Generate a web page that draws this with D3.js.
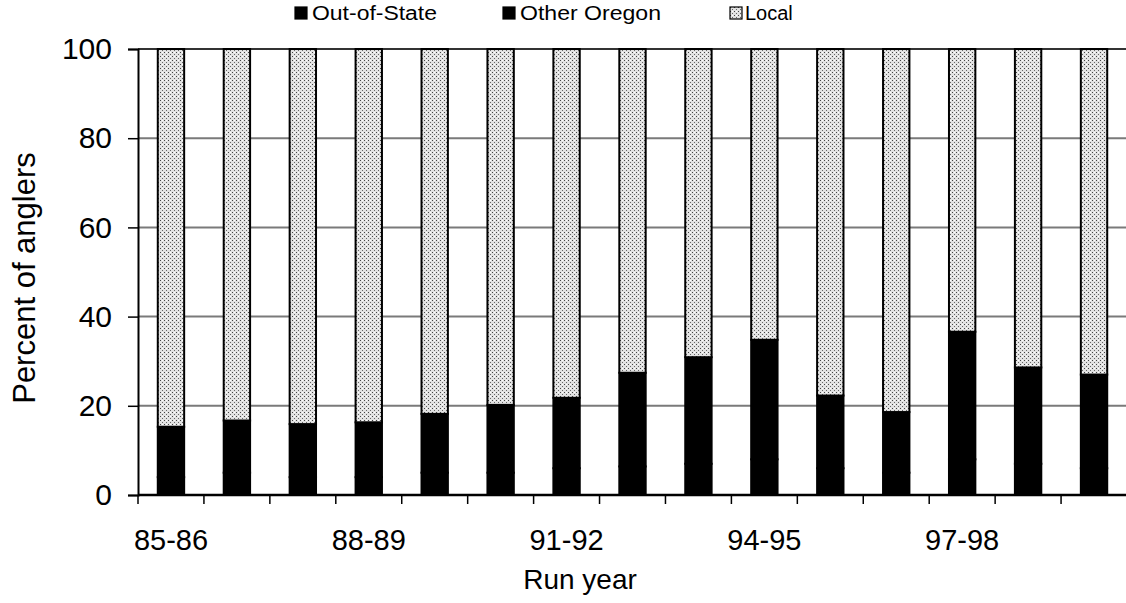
<!DOCTYPE html>
<html>
<head>
<meta charset="utf-8">
<script src="https://cdn.jsdelivr.net/npm/d3@7"></script>
<style>
  body { margin: 0; background: #fff; }
  svg { display: block; font-family: "Liberation Sans", Arial, sans-serif; }
</style>
</head>
<body>
<div id="chart"></div>
<script>
// run years on the x axis
const runYears = ['85-86', '86-87', '87-88', '88-89', '89-90', '90-91', '91-92', '92-93',
    '93-94', '94-95', '95-96', '96-97', '97-98', '98-99', '99-00'];
const shownYears = ['85-86', '88-89', '91-92', '94-95', '97-98'];

// percent of anglers
const outOfState = [4, 5, 4, 4, 5, 5, 6, 6.4, 7, 8, 6, 5, 8, 7, 6];
const otherOregon = [11.3, 11.7, 11.9, 12.3, 13.2, 15.2, 15.8, 21, 23.9, 26.8, 16.3, 13.6, 28.6, 21.6, 21];
const local = [84.7, 83.3, 84.1, 83.7, 81.8, 79.8, 78.2, 72.6, 69.1, 65.2, 77.7, 81.4, 63.4, 71.4, 73];

const yTicks = [0, 20, 40, 60, 80, 100];
const seriesNames = ['Out-of-State', 'Other Oregon', 'Local'];

function createChart() {
    const width = 1126;
    const height = 603;
    const margin = { top: 49, right: -1, bottom: 108, left: 138 };

    const svg = d3.create('svg')
        .attr('width', width)
        .attr('height', height);

    const defs = svg.append('defs');
    const pat = defs.append('pattern')
        .attr('id', 'stipple')
        .attr('patternUnits', 'userSpaceOnUse')
        .attr('width', 4)
        .attr('height', 4);
    pat.append('rect').attr('width', 4).attr('height', 4).attr('fill', '#e2e2e2');
    pat.append('rect').attr('x', 0).attr('y', 0).attr('width', 1).attr('height', 1).attr('fill', '#444');
    pat.append('rect').attr('x', 2).attr('y', 2).attr('width', 1).attr('height', 1).attr('fill', '#666');
    pat.append('rect').attr('x', 2).attr('y', 0).attr('width', 1).attr('height', 1).attr('fill', '#fff');

    const x = d3.scaleBand()
        .domain(runYears)
        .range([margin.left, width - margin.right])
        .padding(0);

    const y = d3.scaleLinear()
        .domain([0, 100])
        .range([height - margin.bottom, margin.top]);

    const barWidth = x.bandwidth() * 0.4;

    // gridlines
    svg.append('g')
        .selectAll('line')
        .data(yTicks.filter(d => d > 0))
        .enter().append('line')
        .attr('x1', margin.left)
        .attr('x2', width)
        .attr('y1', d => y(d))
        .attr('y2', d => y(d))
        .attr('stroke', d => d === 100 ? '#333' : '#7a7a7a')
        .attr('stroke-width', 2);

    const table = runYears.map((yr, i) => ({
        year: yr,
        'Out-of-State': outOfState[i],
        'Other Oregon': otherOregon[i],
        'Local': local[i]
    }));
    const stacked = d3.stack().keys(seriesNames)(table);

    const fills = {
        'Out-of-State': '#000',
        'Other Oregon': '#000',
        'Local': 'url(#stipple)'
    };

    svg.append('g')
        .selectAll('g')
        .data(stacked)
        .enter().append('g')
        .attr('fill', d => fills[d.key])
        .selectAll('rect')
        .data(d => d)
        .enter().append('rect')
        .attr('x', d => x(d.data.year) + (x.bandwidth() - barWidth) / 2)
        .attr('y', d => y(d[1]))
        .attr('width', barWidth)
        .attr('height', d => y(d[0]) - y(d[1]))
        .attr('stroke', '#000')
        .attr('stroke-width', 2);

    // y axis
    const yAxis = svg.append('g')
        .attr('transform', `translate(${margin.left},0)`)
        .call(d3.axisLeft(y).tickValues(yTicks).tickSize(10).tickPadding(16));
    yAxis.select('.domain').attr('stroke', '#000').attr('stroke-width', 2);
    yAxis.selectAll('.tick line').attr('stroke', '#000').attr('stroke-width', 1.5);
    yAxis.selectAll('.tick text')
        .attr('font-size', 30)
        .attr('font-family', '"Liberation Sans", Arial, sans-serif')
        .attr('fill', '#000');

    // x axis
    svg.append('line')
        .attr('x1', margin.left)
        .attr('x2', width)
        .attr('y1', y(0))
        .attr('y2', y(0))
        .attr('stroke', '#000')
        .attr('stroke-width', 2.5);

    svg.append('g')
        .selectAll('line')
        .data(runYears)
        .enter().append('line')
        .attr('x1', d => x(d))
        .attr('x2', d => x(d))
        .attr('y1', y(0))
        .attr('y2', y(0) + 9)
        .attr('stroke', '#000')
        .attr('stroke-width', 1.5);

    svg.append('g')
        .selectAll('text')
        .data(shownYears)
        .enter().append('text')
        .attr('x', d => x(d) + x.bandwidth() / 2)
        .attr('y', y(0) + 55)
        .attr('text-anchor', 'middle')
        .attr('font-size', 29)
        .text(d => d);

    svg.append('text')
        .attr('x', 580)
        .attr('y', 589)
        .attr('text-anchor', 'middle')
        .attr('font-size', 28)
        .text('Run year');

    svg.append('text')
        .attr('transform', `translate(35, 278) rotate(-90)`)
        .attr('text-anchor', 'middle')
        .attr('font-size', 31)
        .text('Percent of anglers');

    // legend
    const legendX = [295, 503, 730];
    const legendTextLen = [125, 141, null];
    const legend = svg.append('g')
        .selectAll('g')
        .data(seriesNames)
        .enter().append('g')
        .attr('transform', (d, i) => `translate(${legendX[i]}, 7)`);
    legend.append('rect')
        .attr('width', 12)
        .attr('height', 12)
        .attr('fill', d => fills[d])
        .attr('stroke', '#000')
        .attr('stroke-width', 1.2);
    legend.append('text')
        .attr('x', (d, i) => i === 2 ? 15 : 17)
        .attr('y', 13)
        .attr('font-size', 20)
        .attr('dominant-baseline', 'auto')
        .attr('textLength', (d, i) => legendTextLen[i])
        .attr('lengthAdjust', 'spacingAndGlyphs')
        .text(d => d)
        .attr('transform', 'translate(0, 0)')
        .each(function (d, i) {
            if (legendTextLen[i] === null) this.removeAttribute('textLength');
        })
        .attr('y', 12.5);

    d3.select('#chart').node().append(svg.node());
}

createChart();
</script>
</body>
</html>
